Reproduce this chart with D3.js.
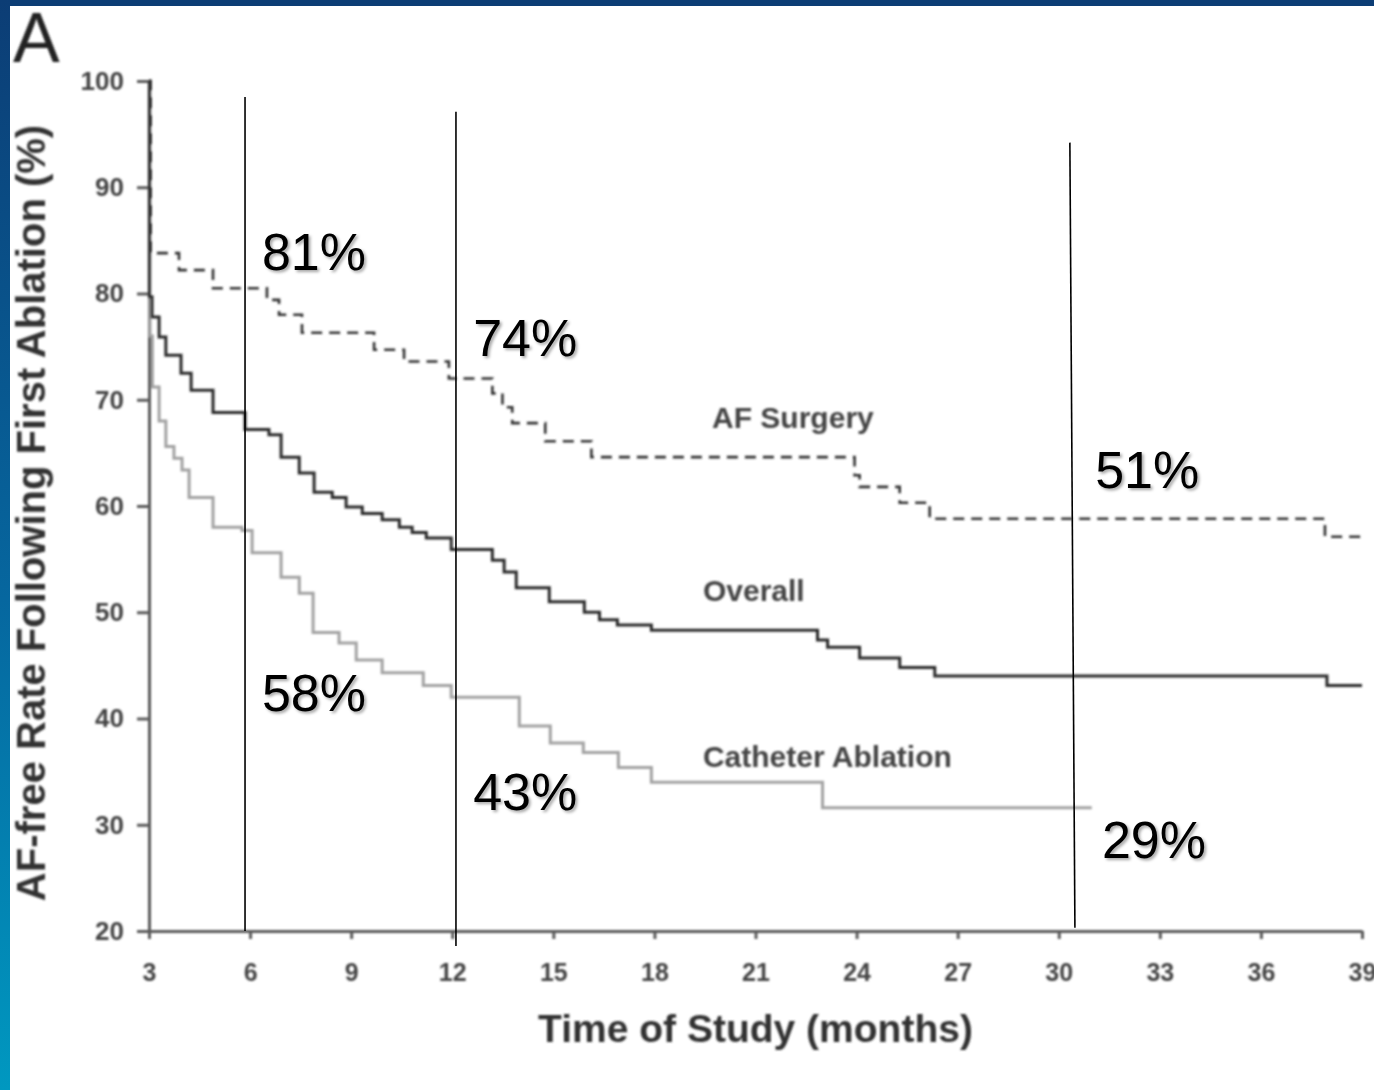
<!DOCTYPE html>
<html lang="en">
<head>
  <meta charset="utf-8">
  <title>AF-free Rate Following First Ablation</title>
  <script src="https://cdnjs.cloudflare.com/ajax/libs/d3/7.8.5/d3.min.js"></script>
  <style type="text/css">
	body {
		margin: 0;
		background: #fff;
	}
	svg {
		display: block;
	}
	.axis path, .axis line {
		stroke: #5a5a5a;
		stroke-width: 3;
	}
	.axis text {
		font-family: "Liberation Sans", Arial, sans-serif;
		font-weight: bold;
		fill: #444;
	}
	.series-label {
		font-family: "Liberation Sans", Arial, sans-serif;
		font-weight: bold;
		font-size: 30px;
		fill: #444;
	}
	.pct {
		font-family: "Liberation Sans", Arial, sans-serif;
		font-size: 52px;
		fill: #000;
	}
</style>
</head>
<body>
<svg id="chart"></svg>
<script>
// tick values
var months = [3, 6, 9, 12, 15, 18, 21, 24, 27, 30, 33, 36, 39];
var rateTicks = [20, 30, 40, 50, 60, 70, 80, 90, 100];

// Kaplan-Meier steps (month, % AF-free)
var surgeryMonths = [3, 3.05, 3.89, 4.9, 6.5, 6.86, 7.54, 9.68, 10.57, 11.9, 13.19, 13.49, 13.78, 14.76, 16.13, 23.94, 24.09, 25.28, 26.17, 37.9, 39];
var surgeryRates = [100, 83.8, 82.2, 80.5, 79.4, 78.0, 76.3, 74.7, 73.6, 72.0, 70.6, 69.3, 67.8, 66.1, 64.6, 62.9, 61.8, 60.3, 58.8, 57.1, 57.1];

var overallMonths = [3, 3.01, 3.09, 3.3, 3.5, 3.95, 4.25, 4.9, 5.85, 6.56, 6.92, 7.46, 7.9, 8.44, 8.85, 9.33, 9.92, 10.43, 10.81, 11.23, 11.97, 13.19, 13.54, 13.9, 14.88, 15.92, 16.37, 16.9, 17.91, 22.84, 23.14, 24.09, 25.28, 26.32, 37.96, 39];
var overallRates = [100, 79.7, 77.8, 75.9, 74.2, 72.5, 70.9, 68.8, 67.2, 66.7, 64.6, 63.1, 61.3, 60.8, 59.9, 59.3, 58.7, 58.0, 57.5, 57.0, 55.9, 54.9, 53.8, 52.3, 51.0, 50.0, 49.3, 48.8, 48.3, 47.4, 46.7, 45.7, 44.8, 44.0, 43.1, 43.1];

var catheterMonths = [3, 3.03, 3.1, 3.3, 3.5, 3.74, 3.98, 4.19, 4.9, 5.76, 6.06, 6.92, 7.46, 7.87, 8.64, 9.15, 9.92, 11.14, 11.97, 13.99, 14.91, 15.89, 16.93, 17.91, 22.99, 30.98];
var catheterRates = [100, 76.0, 71.2, 68.0, 65.6, 64.5, 63.4, 60.8, 58.0, 57.7, 55.6, 53.3, 51.8, 48.1, 47.1, 45.5, 44.3, 43.1, 42.0, 39.3, 37.7, 36.8, 35.4, 34.0, 31.6, 31.6];

// curve labels
var seriesNames = ["AF Surgery", "Overall", "Catheter Ablation"];
var seriesLabelMonths = [19.71, 19.44, 19.44];
var seriesLabelRates = [67.3, 51.1, 35.4];

// overlaid marker lines and percentages
var markTopMonths = [5.85, 12.11, 30.33];
var markBottomMonths = [5.85, 12.11, 30.48];
var markTopRates = [98.5, 97.1, 94.2];
var markBottomRates = [20, 18.6, 20.3];

var pctLabels = ["81%", "74%", "51%", "58%", "43%", "29%"];
var pctMonths = [6.35, 12.62, 31.08, 6.35, 12.62, 31.28];
var pctRates = [82.2, 74.1, 61.7, 40.7, 31.4, 26.9];

var w = 1374;
var h = 1090;

var x = d3.scaleLinear().domain([3, 39]).range([149, 1362]);
var y = d3.scaleLinear().domain([20, 100]).range([931, 81]);

var svg = d3.select("#chart")
	.attr("width", w)
	.attr("height", h);

var defs = svg.append("defs");

var grad = defs.append("linearGradient")
	.attr("id", "edge")
	.attr("x1", 0).attr("y1", 0)
	.attr("x2", 0).attr("y2", 1);
grad.append("stop").attr("offset", "0%").attr("stop-color", "#0c3d75");
grad.append("stop").attr("offset", "55%").attr("stop-color", "#06679f");
grad.append("stop").attr("offset", "100%").attr("stop-color", "#0098c0");

// scanned figure is soft, mimic with a light blur
defs.append("filter")
	.attr("id", "soft")
	.append("feGaussianBlur")
	.attr("stdDeviation", 1);

defs.append("filter")
	.attr("id", "shadow")
	.attr("x", "-10%").attr("y", "-10%")
	.attr("width", "130%").attr("height", "140%")
	.append("feDropShadow")
	.attr("dx", 2)
	.attr("dy", 2)
	.attr("stdDeviation", 1.4)
	.attr("flood-color", "#000")
	.attr("flood-opacity", 0.35);

svg.append("rect")
	.attr("width", w)
	.attr("height", h)
	.attr("fill", "#fff");

var fig = svg.append("g").attr("filter", "url(#soft)");

//panel letter
fig.append("text")
	.attr("x", 13)
	.attr("y", 62)
	.style("font-family", "'Liberation Sans', Arial, sans-serif")
	.style("font-size", "70px")
	.attr("fill", "#222")
	.text("A");

//axes
var xAxis = d3.axisBottom(x).tickValues(months).tickSize(8).tickSizeOuter(0).tickPadding(24);
var yAxis = d3.axisLeft(y).tickValues(rateTicks).tickSize(12).tickSizeOuter(0).tickPadding(13);

fig.append("g")
	.attr("class", "x axis")
	.attr("transform", "translate(0," + y(20) + ")")
	.call(xAxis)
	.attr("font-size", 25);

fig.append("g")
	.attr("class", "y axis")
	.attr("transform", "translate(" + x(3) + ",0)")
	.call(yAxis)
	.attr("font-size", 26);

var step = d3.line()
	.x(function(d) { return x(d[0]); })
	.y(function(d) { return y(d[1]); })
	.curve(d3.curveStepAfter);

function pairs(ms, rs) {
	return ms.map(function(m, i) { return [m, rs[i]]; });
}

fig.append("path")
	.datum(pairs(catheterMonths, catheterRates))
	.attr("d", step)
	.attr("fill", "none")
	.attr("stroke", "#a2a2a2")
	.attr("stroke-width", 3);

fig.append("path")
	.datum(pairs(overallMonths, overallRates))
	.attr("d", step)
	.attr("fill", "none")
	.attr("stroke", "#2b2b2b")
	.attr("stroke-width", 3);

fig.append("path")
	.datum(pairs(surgeryMonths, surgeryRates))
	.attr("d", step)
	.attr("fill", "none")
	.attr("stroke", "#333")
	.attr("stroke-width", 2.6)
	.attr("stroke-dasharray", "11,7");

fig.selectAll(".series-label")
	.data(seriesNames)
	.enter().append("text")
	.attr("class", "series-label")
	.attr("x", function(d, i) { return x(seriesLabelMonths[i]); })
	.attr("y", function(d, i) { return y(seriesLabelRates[i]); })
	.text(function(d) { return d; });

//axis titles
fig.append("text")
	.attr("x", (x(3) + x(39)) / 2)
	.attr("y", 1042)
	.attr("text-anchor", "middle")
	.style("font-family", "'Liberation Sans', Arial, sans-serif")
	.style("font-weight", "bold")
	.style("font-size", "39px")
	.attr("fill", "#333")
	.text("Time of Study (months)");

fig.append("text")
	.attr("x", -513)
	.attr("y", 45)
	.attr("transform", "rotate(-90)")
	.attr("text-anchor", "middle")
	.style("font-family", "'Liberation Sans', Arial, sans-serif")
	.style("font-weight", "bold")
	.style("font-size", "40px")
	.attr("fill", "#333")
	.text("AF-free Rate Following First Ablation (%)");

//marker lines drawn over the figure
svg.selectAll(".mark")
	.data(markTopMonths)
	.enter().append("line")
	.attr("class", "mark")
	.attr("x1", function(d) { return x(d); })
	.attr("y1", function(d, i) { return y(markTopRates[i]); })
	.attr("x2", function(d, i) { return x(markBottomMonths[i]); })
	.attr("y2", function(d, i) { return y(markBottomRates[i]); })
	.attr("stroke", "#000")
	.attr("stroke-width", 1.6);

svg.selectAll(".pct")
	.data(pctLabels)
	.enter().append("text")
	.attr("class", "pct")
	.attr("x", function(d, i) { return x(pctMonths[i]); })
	.attr("y", function(d, i) { return y(pctRates[i]); })
	.attr("filter", "url(#shadow)")
	.text(function(d) { return d; });

//slide frame
svg.append("rect")
	.attr("x", 0).attr("y", 0)
	.attr("width", w).attr("height", 6)
	.attr("fill", "#0c3d75");

svg.append("rect")
	.attr("x", 0).attr("y", 0)
	.attr("width", 10).attr("height", h)
	.attr("fill", "url(#edge)");
</script>
</body>
</html>
